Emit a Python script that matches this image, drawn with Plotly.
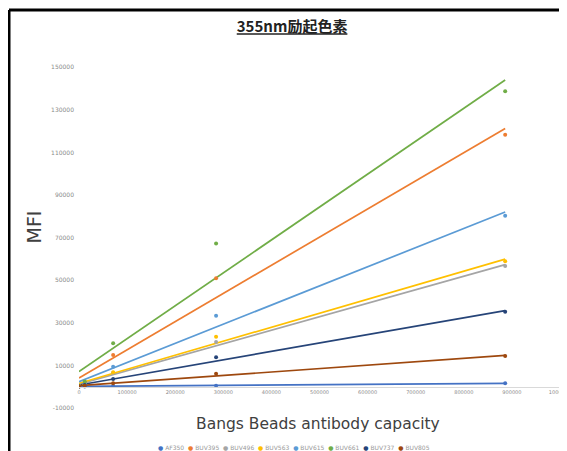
import numpy as np
import plotly.graph_objects as go

# Bangs beads antibody binding capacity (x) for each bead population
bead_abc = [0, 12000, 71000, 285000, 886000]

series_names = ["AF350", "BUV395", "BUV496", "BUV563", "BUV615", "BUV661", "BUV737", "BUV805"]
series_colors = ["#4472C4", "#ED7D31", "#A5A5A5", "#FFC000", "#5B9BD5", "#70AD47", "#264478", "#9E480E"]

af350 = [100, 150, 300, 500, 1600]
buv395 = [300, 2000, 14900, 50900, 118300]
buv496 = [200, 1000, 6500, 21000, 56700]
buv563 = [200, 1200, 6800, 23500, 58900]
buv615 = [200, 1500, 9400, 33300, 80300]
buv661 = [300, 2500, 20400, 67300, 138700]
buv737 = [100, 800, 3600, 13800, 35200]
buv805 = [50, 400, 1600, 6100, 14400]

series_values = [af350, buv395, buv496, buv563, buv615, buv661, buv737, buv805]

y_tickvals = [-10000, 10000, 30000, 50000, 70000, 90000, 110000, 130000, 150000]
x_tickvals = [0, 100000, 200000, 300000, 400000, 500000, 600000, 700000, 800000, 900000, 1000000]

fig = go.Figure()

xs = np.array(bead_abc, dtype=float)
for name, color, vals in zip(series_names, series_colors, series_values):
    ys = np.array(vals, dtype=float)
    slope, intercept = np.polyfit(xs, ys, 1)
    xline = np.array([xs.min(), xs.max()])
    fig.add_trace(go.Scatter(
        x=xline, y=slope * xline + intercept, mode="lines",
        line=dict(color=color, width=1.7), showlegend=False, hoverinfo="skip",
    ))
for name, color, vals in zip(series_names, series_colors, series_values):
    fig.add_trace(go.Scatter(
        x=bead_abc, y=vals, mode="markers", name=name,
        marker=dict(color=color, size=4), showlegend=False,
    ))

FONT = "DejaVu Sans, Noto Sans CJK JP, sans-serif"

# page has an 8px body margin; plot area is at page x 79..560, y 46..408
OFF = 8
fig.update_layout(
    width=567 - OFF, height=451 - OFF,
    margin=dict(l=79 - OFF, r=7, t=46 - OFF, b=43),
    paper_bgcolor="white", plot_bgcolor="white",
    font=dict(family=FONT, color="#595959"),
    title=dict(
        text="<u>355nm励起色素</u>",
        x=0.443, xref="paper", xanchor="center",
        y=1 - (27 - OFF) / (451 - OFF), yanchor="middle",
        font=dict(size=15, color="#222222", family="Noto Sans CJK JP, sans-serif", weight="bold"),
    ),
    xaxis=dict(
        range=[0, 1000000], tickvals=x_tickvals,
        ticktext=[str(v) for v in x_tickvals],
        tickfont=dict(size=5, color="#8a8a8a"),
        showgrid=False, zeroline=False,
        showline=True, linecolor="#d9d9d9", linewidth=1,
        anchor="free", position=10000 / 170000,
        ticks="", ticklabeloverflow="allow", automargin=False,
    ),
    yaxis=dict(
        range=[-10000, 160000], tickvals=y_tickvals,
        ticktext=[str(v) for v in y_tickvals],
        tickfont=dict(size=6, color="#8a8a8a"),
        showgrid=False, zeroline=False, showline=False, ticks="",
        ticklabelstandoff=4, automargin=False,
        title=dict(text="MFI", font=dict(size=19, color="#404040"), standoff=4),
    ),
    showlegend=False,
)

# x axis title (below the plot, as in the reference)
fig.add_annotation(
    text="Bangs Beads antibody capacity", xref="paper", yref="paper",
    x=(318 - 79) / 481, y=(408 - 424) / 362, xanchor="center", yanchor="middle",
    showarrow=False, font=dict(size=15.5, color="#404040"),
)

# legend row
legend_text = "  ".join(
    f"<span style='color:{c}'>●</span> {n}" for n, c in zip(series_names, series_colors)
)
fig.add_annotation(
    text=legend_text, xref="paper", yref="paper",
    x=(294 - 79) / 481, y=(408 - 447) / 362, xanchor="center", yanchor="middle",
    showarrow=False, font=dict(size=6, color="#999999"),
)

# black frame around the panel
fig.add_shape(type="line", xref="paper", yref="paper",
              x0=(9 - 79) / 481, x1=(9 - 79) / 481, y0=(408 - 10) / 362, y1=(408 - 460) / 362,
              line=dict(color="black", width=3))
fig.add_shape(type="line", xref="paper", yref="paper",
              x0=(9 - 79) / 481, x1=(575 - 79) / 481, y0=(408 - 10) / 362, y1=(408 - 10) / 362,
              line=dict(color="black", width=3))

fig.write_html("out.html")
